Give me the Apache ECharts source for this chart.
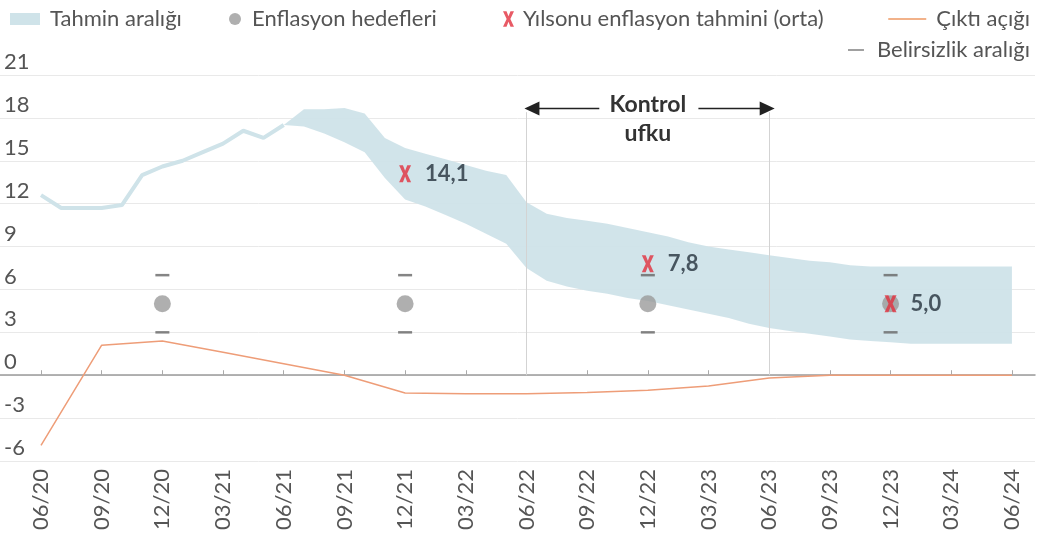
<!DOCTYPE html>
<html>
<head>
<meta charset="utf-8">
<script src="https://cdn.jsdelivr.net/npm/echarts@6/dist/echarts.min.js"></script>
<style>
html,body{margin:0;padding:0;background:#fff;}
#chart{width:1041px;height:539px;}
</style>
</head>
<body>
<div id="chart"></div>
<script>
// ---- Data (month index 0 = 06/20) ----
const quarterLabels = ['06/20','09/20','12/20','03/21','06/21','09/21','12/21','03/22','06/22','09/22','12/22','03/23','06/23','09/23','12/23','03/24','06/24'];
const yTicks = [-6,-3,0,3,6,9,12,15,18,21];

// Realised inflation, monthly, 06/20 .. 06/21
const historyStart = 0;
const historyValues = [12.6,11.7,11.7,11.7,11.9,14.0,14.6,15.0,15.6,16.2,17.1,16.6,17.5];

// Forecast band, monthly, 06/21 .. 06/24
const bandStart = 12;
const bandUpper = [17.5,18.6,18.6,18.7,18.3,16.6,15.9,15.5,15.1,14.7,14.3,14.0,12.1,11.3,11.0,10.8,10.6,10.3,10.0,9.7,9.3,9.0,8.8,8.6,8.4,8.2,8.0,7.9,7.7,7.6,7.6,7.6,7.6,7.6,7.6,7.6,7.6];
const bandLower = [17.5,17.4,16.9,16.3,15.6,13.8,12.3,11.8,11.2,10.6,9.9,9.2,7.5,6.6,6.2,5.9,5.7,5.4,5.2,4.9,4.6,4.3,4.0,3.6,3.3,3.1,2.9,2.7,2.5,2.4,2.3,2.2,2.2,2.2,2.2,2.2,2.2];

// Inflation targets and uncertainty range (year ends)
const targetIdx = [6,18,30,42];
const targetValues = [5,5,5,5];
const uncertaintyUpper = [7,7,7,7];
const uncertaintyLower = [3,3,3,3];

// Year-end inflation forecasts (mid)
const forecastIdx = [18,30,42];
const forecastValues = [14.1,7.8,5.0];

// Output gap, quarterly
const outputGap = [-4.9,2.1,2.4,1.6,0.8,0.0,-1.25,-1.3,-1.3,-1.2,-1.05,-0.75,-0.2,0,0,0,0];

// Control horizon
const controlFrom = 24, controlTo = 36;

// ---- Build ----
const BAND = '#cfe3e9';
const FONT = 'Lato';
const X_PATH = 'path://M0,0H3.2L5,4.6L6.8,0H10L6.7,7L10,14H6.8L5,9.4L3.2,14H0L3.3,7Z';
const quarterIdx = quarterLabels.map((_, i) => i * 3);

const histData = historyValues.map((v, i) => [historyStart + i, v]);
const bandData = bandUpper.map((v, i) => [bandStart + i, bandLower[i], v]);
const targetData = targetIdx.map((x, i) => [x, targetValues[i]]);
const uncData = targetIdx.map((x, i) => [x, uncertaintyUpper[i]]).concat(targetIdx.map((x, i) => [x, uncertaintyLower[i]]));
const forecastData = forecastIdx.map((x, i) => [x, forecastValues[i]]);
const gapData = outputGap.map((v, i) => [i * 3, v]);

const txt = {fontFamily: FONT, fontSize: 22, color: '#555'};
const XMIN = -2.027, XMAX = 49.14;

function renderBand(params, api) {
  if (params.dataIndex !== 0) return null;
  const top = [], bottom = [];
  for (let i = 0; i < bandData.length; i++) {
    top.push(api.coord([bandData[i][0], bandData[i][2]]));
    bottom.push(api.coord([bandData[i][0], bandData[i][1]]));
  }
  const pts = top.concat(bottom.reverse());
  return {type: 'polygon', shape: {points: pts}, style: {fill: BAND, opacity: 0.95}, silent: true};
}

const chart = echarts.init(document.getElementById('chart'), null, {renderer: 'canvas'});
chart.setOption({
  animation: false,
  textStyle: {fontFamily: FONT},
  grid: {left: 0, right: 6, top: 75, bottom: 78, containLabel: false},
  legend: [
    {left: 5, top: 3, itemWidth: 30, itemHeight: 12, textStyle: Object.assign({padding: [0,0,0,5]}, txt),
     data: [{name: 'Tahmin aralığı', icon: 'rect', itemStyle: {color: BAND}}], selectedMode: false},
    {left: 224, top: 3, itemWidth: 12, itemHeight: 12, textStyle: Object.assign({padding: [0,0,0,6]}, txt),
     data: [{name: 'Enflasyon hedefleri', icon: 'circle', itemStyle: {color: '#9b9b9b'}}], selectedMode: false},
    {left: 498, top: 3, itemWidth: 11, itemHeight: 16, textStyle: Object.assign({padding: [0,0,0,4]}, txt),
     data: [{name: 'Yılsonu enflasyon tahmini (orta)', icon: X_PATH, itemStyle: {color: '#e2313f'}}], selectedMode: false},
    {right: 6, top: 3, itemWidth: 38, itemHeight: 2, textStyle: Object.assign({padding: [0,0,0,5]}, txt),
     data: [{name: 'Çıktı açığı', icon: 'rect', itemStyle: {color: '#f2b28a'}}], selectedMode: false},
    {right: 6, top: 34, itemWidth: 16, itemHeight: 2, textStyle: Object.assign({padding: [0,0,0,8]}, txt),
     data: [{name: 'Belirsizlik aralığı', icon: 'rect', itemStyle: {color: '#888'}}], selectedMode: false}
  ],
  xAxis: [
    {type: 'value', min: XMIN, max: XMAX, position: 'bottom',
     axisLine: {show: false, onZero: false}, axisTick: {show: false}, splitLine: {show: false},
     axisLabel: {customValues: quarterIdx, rotate: 90, margin: 8, fontFamily: FONT, fontSize: 22, color: '#555',
       formatter: v => quarterLabels[Math.round(v / 3)]}},
    {type: 'value', min: XMIN, max: XMAX, position: 'bottom',
     axisLine: {show: true, onZero: true, lineStyle: {color: '#9a9a9a', width: 1.5}},
     axisTick: {show: true, customValues: quarterIdx, inside: true, length: 5, lineStyle: {color: '#aaa'}},
     axisLabel: {show: false}, splitLine: {show: false}}
  ],
  yAxis: {
    type: 'value', min: yTicks[0], max: yTicks[yTicks.length - 1], interval: 3,
    axisLine: {show: false}, axisTick: {show: false},
    splitLine: {lineStyle: {color: '#e9e9e9', width: 1}},
    axisLabel: {inside: true, align: 'left', verticalAlign: 'bottom', margin: 4, padding: [0,0,2,0],
      fontFamily: FONT, fontSize: 22, color: '#555'}
  },
  series: [
    {name: 'Tahmin aralığı', type: 'custom', data: bandData, renderItem: renderBand,
     itemStyle: {color: BAND}, encode: {x: 0, y: [1, 2]}, silent: true, z: 2},
    {name: 'Gerçekleşen', type: 'line', data: histData, symbol: 'none',
     lineStyle: {color: BAND, width: 4}, silent: true, z: 2},
    {name: 'Çıktı açığı', type: 'line', data: gapData, symbol: 'none',
     itemStyle: {color: '#f0a27c'}, lineStyle: {color: '#ee9d78', width: 1.5}, z: 3,
     markLine: {
       silent: true, animation: false, symbol: ['none', 'none'],
       label: {show: false},
       lineStyle: {color: '#d3d3d3', width: 1, type: 'solid'},
       data: [
         [{coord: [controlFrom, 18.4]}, {coord: [controlFrom, 0]}],
         [{coord: [controlTo, 18.4]}, {coord: [controlTo, 0]}],
         [{coord: [controlFrom + 0.27, 18.65], symbol: 'triangle', symbolSize: [14, 15], lineStyle: {color: '#222', width: 1.3}},
          {coord: [27.6, 18.65], symbol: 'none', lineStyle: {color: '#222', width: 1.3}}],
         [{coord: [32.5, 18.65], symbol: 'none', lineStyle: {color: '#222', width: 1.3}},
          {coord: [controlTo - 0.1, 18.65], symbol: 'triangle', symbolSize: [14, 15], lineStyle: {color: '#222', width: 1.3}}]
       ]
     },
     markPoint: {
       silent: true, symbol: 'circle', symbolSize: 1, itemStyle: {color: 'rgba(0,0,0,0)'},
       label: {show: true, position: 'inside', formatter: 'Kontrol\nufku', fontFamily: FONT, fontWeight: 'bold',
         fontSize: 23, lineHeight: 29, color: '#333'},
       data: [{coord: [(controlFrom + controlTo) / 2, 17.95]}]
     }},
    {name: 'Enflasyon hedefleri', type: 'scatter', data: targetData, symbol: 'circle', symbolSize: 17,
     itemStyle: {color: '#9b9b9b'}, z: 4},
    {name: 'Belirsizlik aralığı', type: 'scatter', data: uncData, symbol: 'rect', symbolSize: [14, 2.5],
     itemStyle: {color: '#666'}, z: 4},
    {name: 'Yılsonu enflasyon tahmini (orta)', type: 'scatter', data: forecastData, symbol: X_PATH,
     symbolSize: [12, 17], itemStyle: {color: '#e2313f'}, z: 5,
     label: {show: true, position: 'right', distance: 14, fontFamily: FONT, fontWeight: 'bold', fontSize: 22,
       color: '#26323d', formatter: p => p.value[1].toFixed(1).replace('.', ',')}}
  ]
});
</script>
</body>
</html>
